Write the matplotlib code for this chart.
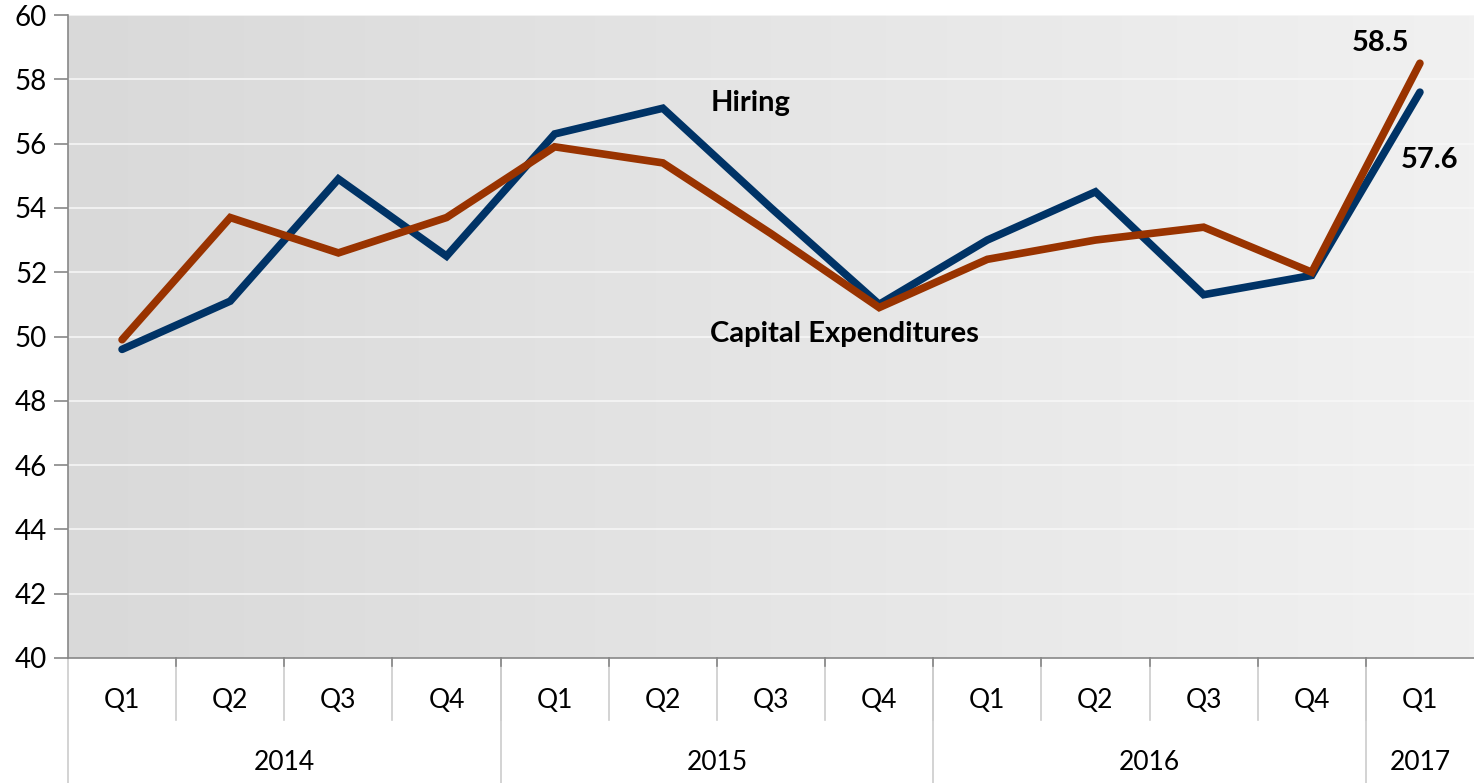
import matplotlib.pyplot as plt
import numpy as np

plt.rcParams['font.family'] = ['Lato', 'DejaVu Sans']

# quarterly index readings
quarters = ['Q1', 'Q2', 'Q3', 'Q4', 'Q1', 'Q2', 'Q3', 'Q4',
            'Q1', 'Q2', 'Q3', 'Q4', 'Q1']
years = ['2014', '2015', '2016', '2017']
year_sizes = [4, 4, 4, 1]
hiring = [49.6, 51.1, 54.9, 52.5, 56.3, 57.1, 54.0, 51.0,
          53.0, 54.5, 51.3, 51.9, 57.6]
capex = [49.9, 53.7, 52.6, 53.7, 55.9, 55.4, 53.2, 50.9,
         52.4, 53.0, 53.4, 52.0, 58.5]

W, H = 1474, 783
fig = plt.figure(figsize=(W / 100, H / 100), dpi=100)
ax = fig.add_axes([68 / W, 125 / H, 1 - 68 / W, 643 / H])

n = len(quarters)
x = np.arange(n)
ax.set_xlim(-0.5, n - 0.5)
ax.set_ylim(40, 60)

# horizontal gradient background
grad = np.linspace(0, 1, 256).reshape(1, -1)
ax.imshow(grad, extent=[-0.5, n - 0.5, 40, 60], aspect='auto',
          cmap=plt.matplotlib.colors.LinearSegmentedColormap.from_list(
              'bg', ['#d9d9d9', '#f1f1f1']), zorder=0)

for yv in range(42, 61, 2):
    ax.axhline(yv, color='#f8f8f8', lw=1.1, zorder=1)

ax.plot(x, hiring, color='#003366', lw=5.5, solid_capstyle='round',
        solid_joinstyle='miter', zorder=3)
ax.plot(x, capex, color='#993300', lw=5.5, solid_capstyle='round',
        solid_joinstyle='miter', zorder=3)

bold = dict(fontsize=21, fontweight='bold', color='black')
ax.text(5.44, 57.26, 'Hiring', ha='left', va='center', **bold)
ax.text(5.44, 50.08, 'Capital Expenditures', ha='left', va='center', **bold)
ax.text(11.64, 59.13, f'{capex[-1]:.1f}', ha='center', va='center', **bold)
ax.text(12.09, 55.49, f'{hiring[-1]:.1f}', ha='center', va='center', **bold)

for s in ['top', 'right']:
    ax.spines[s].set_visible(False)
ax.spines['left'].set_color('#888888')
ax.spines['bottom'].set_color('#888888')
ax.spines['left'].set_linewidth(1.2)
ax.spines['bottom'].set_linewidth(1.2)

ax.set_yticks(range(40, 61, 2))
ax.tick_params(axis='y', length=10, color='#888888', width=1.2,
               labelsize=20, pad=5)
ax.set_xticks([])

# two-level category axis
tr = ax.get_xaxis_transform()
for i, q in enumerate(quarters):
    ax.text(i, -0.066, q, transform=tr, ha='center', va='center',
            fontsize=19, clip_on=False)
for k in range(1, n):
    ax.plot([k - 0.5, k - 0.5], [0, -0.097], transform=tr, color='#cccccc',
            lw=1.2, clip_on=False)
    ax.plot([k - 0.5, k - 0.5], [0, -0.012], transform=tr, color='#888888',
            lw=1.2, clip_on=False)

start = 0
bounds = [0]
for name, size in zip(years, year_sizes):
    mid = start + size / 2 - 0.5
    ax.text(mid, -0.162, name, transform=tr, ha='center', va='center',
            fontsize=19, clip_on=False)
    start += size
    bounds.append(start)
for b in bounds[:-1]:
    ax.plot([b - 0.5, b - 0.5], [0, -0.195], transform=tr, color='#cccccc',
            lw=1.2, clip_on=False, zorder=0)

fig.savefig('out.png', dpi=100)
